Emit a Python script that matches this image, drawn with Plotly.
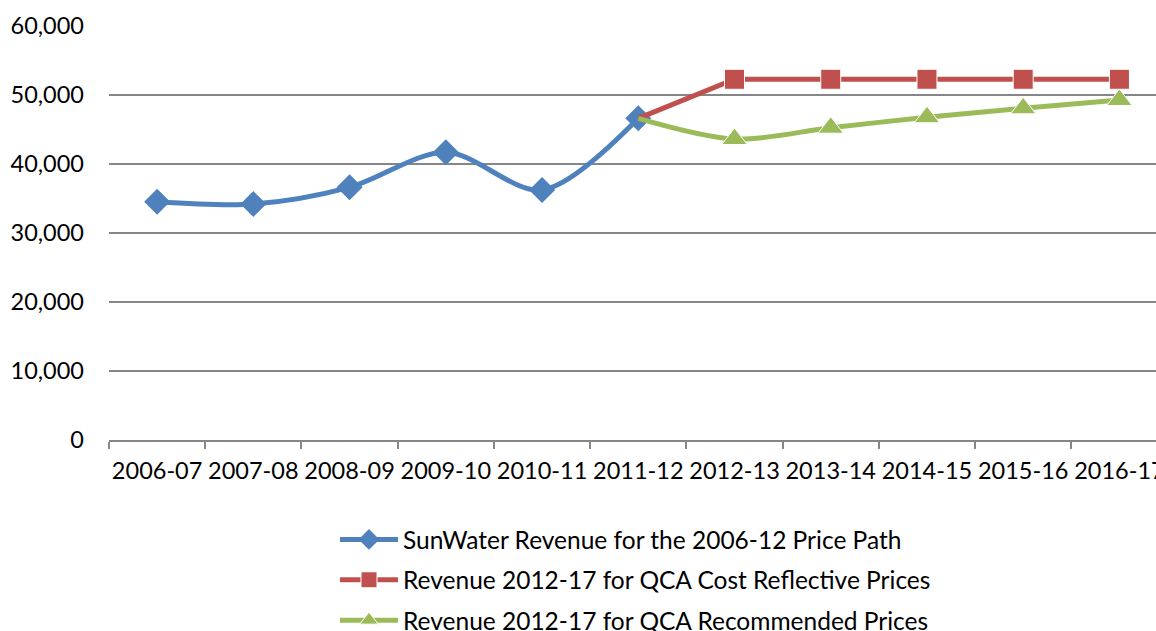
import plotly.graph_objects as go

# Financial years on the category axis
years = ["2006-07", "2007-08", "2008-09", "2009-10", "2010-11", "2011-12",
         "2012-13", "2013-14", "2014-15", "2015-16", "2016-17"]

# Revenue series ($'000)
sunwater_years = years[:6]
sunwater_revenue = [34540, 34200, 36620, 41700, 36230, 46620]

qca_years = years[5:]
cost_reflective = [46620, 52280, 52280, 52280, 52280, 52280]
recommended = [46620, 43620, 45260, 46770, 48070, 49280]

names = [
    "SunWater Revenue for the 2006-12 Price Path",
    "Revenue 2012-17 for QCA Cost Reflective Prices",
    "Revenue 2012-17 for QCA Recommended Prices",
]

BLUE = "#4F81BD"
RED = "#C0504D"
GREEN = "#9BBB59"
FONT = "Lato"
LW = 5

# The 2012-17 series continue from the last 2006-12 point without a marker there
qca_sizes_sq = [0, 20, 20, 20, 20, 20]
qca_sizes_tri = [0, 22, 22, 22, 22, 22]

fig = go.Figure()
fig.add_trace(go.Scatter(
    x=sunwater_years, y=sunwater_revenue, name=names[0], legendgroup="a",
    mode="lines+markers",
    line=dict(color=BLUE, width=LW, shape="spline", smoothing=0.9),
    marker=dict(symbol="diamond", size=20, color=BLUE, opacity=1),
))
fig.add_trace(go.Scatter(
    x=qca_years, y=cost_reflective, name=names[1], legendgroup="b",
    mode="lines+markers",
    line=dict(color=RED, width=LW),
    marker=dict(symbol="square", size=qca_sizes_sq, color=RED, opacity=1),
))
fig.add_trace(go.Scatter(
    x=qca_years, y=recommended, name=names[2], legendgroup="c",
    mode="lines+markers",
    line=dict(color=GREEN, width=LW, shape="spline", smoothing=0.9),
    marker=dict(symbol="triangle-up", size=qca_sizes_tri, color=GREEN,
                opacity=1),
))

fig.update_layout(
    width=1156, height=631,
    margin=dict(l=109, r=0, t=26, b=191, autoexpand=False),
    paper_bgcolor="white", plot_bgcolor="white",
    font=dict(family=FONT, size=23, color="#000000"),
    showlegend=True,
    legend=dict(
        xref="container", yref="container",
        x=335 / 1156, y=1 - 517 / 631,
        xanchor="left", yanchor="top",
        orientation="v", tracegroupgap=5.5,
        font=dict(family=FONT, size=24.5, color="#000000"),
        bgcolor="rgba(0,0,0,0)", itemwidth=58,
    ),
)

fig.update_xaxes(
    type="category", categoryorder="array", categoryarray=years,
    range=[-0.5, 10.38], automargin=False, tickangle=0,
    showgrid=False, showline=True, linecolor="#868686", linewidth=1.5,
    ticks="outside", tickson="boundaries", ticklen=7, tickcolor="#868686",
    tickwidth=1.5, ticklabelstandoff=9,
    tickfont=dict(family=FONT, size=23.5, color="#000000"),
    fixedrange=True,
)
fig.update_yaxes(
    range=[0, 60000], tick0=0, dtick=10000, tickformat=",d",
    automargin=False,
    showgrid=True, gridcolor="#868686", gridwidth=1.5,
    showline=False, zeroline=False,
    ticks="", ticklabelstandoff=24,
    tickfont=dict(family=FONT, size=23.5, color="#000000"),
    fixedrange=True,
)

fig.write_html("out.html")
